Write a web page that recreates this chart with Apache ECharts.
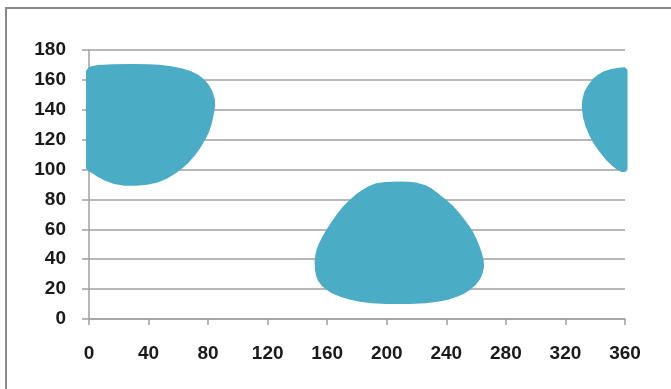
<!DOCTYPE html>
<html>
<head>
<meta charset="utf-8">
<script src="https://cdn.jsdelivr.net/npm/echarts@6/dist/echarts.min.js"></script>
<style>
  html, body { margin: 0; padding: 0; background: #fff; }
  #chart { width: 671px; height: 389px; }
</style>
</head>
<body>
<div id="chart"></div>
<script>
// Axis ticks
const xTicks = [0, 40, 80, 120, 160, 200, 240, 280, 320, 360];
const yTicks = [0, 20, 40, 60, 80, 100, 120, 140, 160, 180];

// Outline of each filled region, as [x, y] pairs in axis units (clockwise)
const regionWest = [
  [-1.5, 166], [0.5, 168.3], [6, 169.4], [16, 170], [30, 170.2], [40, 170], [47, 169.6],
  [55, 168.7], [62, 167.3], [68, 165.5], [73, 163], [77, 160], [80, 156.5], [82.5, 152],
  [84, 147], [84.2, 143], [83.5, 138], [82, 131], [80, 125], [77.5, 120], [74.5, 115],
  [71, 110], [67, 105.5], [63, 101.8], [58, 98], [52, 94.3], [46, 91.8], [39, 90.3],
  [32, 89.6], [24, 89.7], [17, 90.8], [11, 93], [5, 96.2], [0, 99.5], [-1.5, 101]
];
const regionSouth = [
  [199, 91.2], [207, 91.5], [215, 91.3], [220.5, 90.6], [225.5, 89.2], [230, 86.8],
  [235, 83], [240, 79], [244.5, 75], [248.5, 70.5], [252, 66], [255, 62], [257.5, 58],
  [260, 53], [262, 48], [263.5, 43.5], [264.6, 39], [264.8, 35], [264, 31], [262.3, 27],
  [259.5, 23.3], [256, 20.2], [252, 17.6], [247, 15.3], [241, 13.4], [234, 12],
  [226, 11], [215, 10.6], [200, 10.6], [190, 11], [182, 12], [175, 13.5], [169, 15.3],
  [164, 17.4], [160, 19.8], [157, 22.3], [154.5, 25.5], [153, 29], [152.3, 33],
  [152, 38], [152.4, 42], [153.4, 46.5], [155, 50.5], [157.2, 55], [160.2, 60],
  [163.5, 65], [167, 70], [171, 75], [175, 79], [179, 82.5], [183.5, 85.8],
  [188, 88.4], [193, 90.3]
];
const regionEast = [
  [361.2, 166.5], [359.5, 168], [356, 167.6], [351, 166.8], [346, 165.3], [342, 163],
  [338.5, 160], [335.5, 156], [333, 151.5], [331.8, 146.5], [331.5, 141], [332.3, 135],
  [334, 129], [336.5, 123], [339.5, 117.5], [343, 112.5], [347, 107.5], [351, 103.5],
  [355, 100.3], [358, 98.8], [360.5, 99], [361.2, 100.5]
];

const regions = [regionWest, regionSouth, regionEast];
const fillColor = '#4BACC6';
const gridColor = '#a0a0a0';
const labelFont = { fontFamily: 'Liberation Sans', fontSize: 19, fontWeight: 'bold', color: '#1a1a1a' };

const chart = echarts.init(document.getElementById('chart'));
chart.setOption({
  animation: false,
  graphic: [{
    type: 'rect',
    shape: { x: 6, y: 8, width: 700, height: 420 },
    style: { fill: 'none', stroke: '#8a8a8a', lineWidth: 2 },
    silent: true
  }],
  grid: { left: 89, right: 46, top: 50, bottom: 70 },
  xAxis: {
    type: 'value', min: xTicks[0], max: xTicks[xTicks.length - 1], interval: 40,
    axisLine: { show: true, lineStyle: { color: gridColor, width: 1.5 } },
    axisTick: { show: true, length: 6, lineStyle: { color: gridColor, width: 1.5 } },
    splitLine: { show: false },
    axisLabel: Object.assign({ margin: 25 }, labelFont)
  },
  yAxis: {
    type: 'value', min: yTicks[0], max: yTicks[yTicks.length - 1], interval: 20,
    axisLine: { show: true, lineStyle: { color: gridColor, width: 1.5 } },
    axisTick: { show: true, length: 7, lineStyle: { color: gridColor, width: 1.5 } },
    splitLine: { show: true, lineStyle: { color: gridColor, width: 1.5 } },
    axisLabel: Object.assign({ margin: 23 }, labelFont)
  },
  series: [{
    type: 'custom',
    clip: false,
    data: regions.map((r, i) => [i]),
    renderItem: function (params, api) {
      const outline = regions[params.dataIndex];
      const pts = outline.map(p => api.coord(p));
      return {
        type: 'polygon',
        shape: { points: pts },
        style: { fill: fillColor, stroke: fillColor, lineWidth: 1.5, lineJoin: 'round' }
      };
    }
  }]
});
</script>
</body>
</html>
